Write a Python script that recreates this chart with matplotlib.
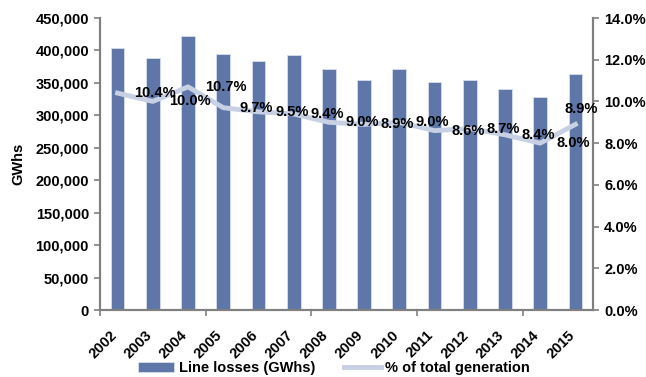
import matplotlib
matplotlib.use('Agg')
import matplotlib.pyplot as plt
import matplotlib.transforms as mtransforms
import numpy as np
from matplotlib.ticker import FuncFormatter, FixedLocator

plt.rcParams['font.family'] = ['Liberation Sans', 'DejaVu Sans']
plt.rcParams['font.weight'] = 'bold'

years = ['2002', '2003', '2004', '2005', '2006', '2007', '2008',
         '2009', '2010', '2011', '2012', '2013', '2014', '2015']
line_losses = [403000, 389000, 423000, 394000, 383000, 392500, 371000,
               354000, 371000, 351500, 354000, 341000, 328500, 363000]
pct_generation = [10.4, 10.0, 10.7, 9.7, 9.5, 9.4, 9.0,
                  8.9, 9.0, 8.6, 8.7, 8.4, 8.0, 8.9]

bar_color = '#5E77A8'
line_color = '#C8D0E4'
spine_color = '#808080'
fs = 10.5

fig = plt.figure(figsize=(6.46, 3.77), dpi=100)
ax = fig.add_axes([100 / 646, 67 / 377, 493 / 646, 292 / 377])
x = np.arange(len(years))

bars = ax.bar(x, line_losses, width=0.39, color=bar_color,
              edgecolor='#D6DDEE', linewidth=0.6, label='Line losses (GWhs)', zorder=2)
ax.set_xlim(-0.5, len(years) - 0.5)
ax.set_ylim(0, 450000)
ax.set_yticks(np.arange(0, 450001, 50000))
ax.yaxis.set_major_formatter(FuncFormatter(lambda v, p: f'{v:,.0f}'))
ax.set_ylabel('GWhs', fontsize=fs, fontweight='bold', labelpad=7)

# category labels, with tick marks every third boundary
ax.set_xticks(x)
ax.set_xticklabels(years, rotation=45, ha='right', rotation_mode='anchor')
ax.tick_params(axis='x', length=0, pad=11)
shift = mtransforms.ScaledTranslation(-8 / 100, -3 / 100, fig.dpi_scale_trans)
for lbl in ax.get_xticklabels():
    lbl.set_transform(lbl.get_transform() + shift)
ax.xaxis.set_minor_locator(FixedLocator(np.arange(-0.5, len(years), 3)))
ax.tick_params(axis='x', which='minor', length=4, color=spine_color, width=1.2)
ax.tick_params(axis='y', length=4, color=spine_color, width=1.2, pad=4)
ax.tick_params(labelsize=fs)

ax2 = ax.twinx()
ln, = ax2.plot(x, pct_generation, color=line_color, linewidth=3.5,
               solid_joinstyle='round', label='% of total generation', zorder=3)
ax2.set_ylim(0, 14)
ax2.set_yticks(np.arange(0, 14.1, 2))
ax2.yaxis.set_major_formatter(FuncFormatter(lambda v, p: f'{v:.1f}%'))
ax2.tick_params(axis='y', length=4, color=spine_color, width=1.2, labelsize=fs, pad=4)

# value labels to the right of each point, last one above
for i, v in enumerate(pct_generation):
    if i == len(pct_generation) - 1:
        ax2.annotate(f'{v:.1f}%', (i, v), xytext=(-8, 6), textcoords='offset points',
                     ha='left', va='bottom', fontsize=10.5, fontweight='bold')
    else:
        ax2.annotate(f'{v:.1f}%', (i, v), xytext=(12, 0), textcoords='offset points',
                     ha='left', va='center', fontsize=10.5, fontweight='bold')

for a in (ax, ax2):
    a.spines['top'].set_visible(False)
    for sk in ('left', 'right', 'bottom'):
        a.spines[sk].set_color(spine_color)
        a.spines[sk].set_linewidth(1.5)

fig.legend(handles=[bars, ln], loc='lower center', ncol=2, frameon=False,
           bbox_to_anchor=(0.517, -0.03), fontsize=fs, handlelength=2.5,
           handleheight=0.6, columnspacing=2.0, handletextpad=0.3)

fig.savefig('out.png', dpi=100)
